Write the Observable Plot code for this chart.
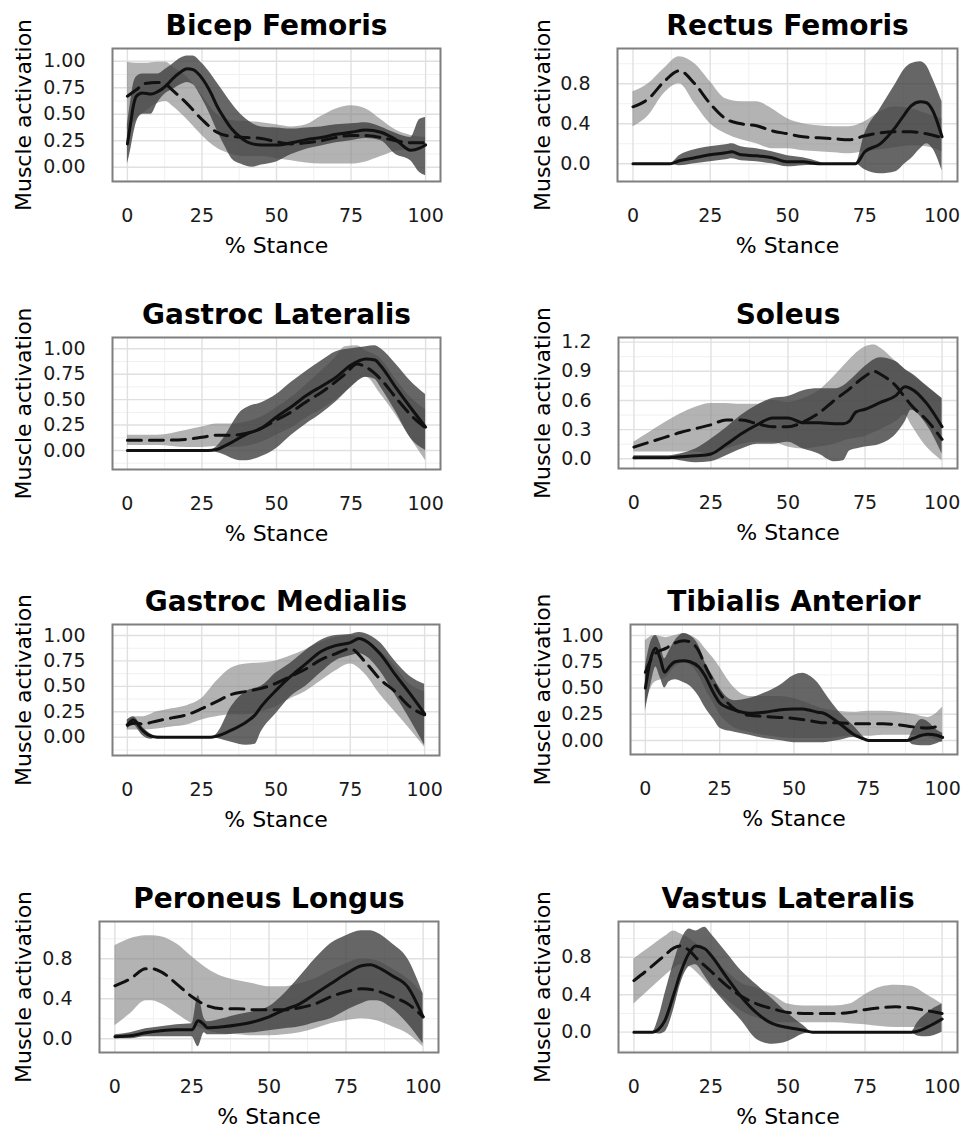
<!DOCTYPE html>
<html>
<head>
<meta charset="utf-8">
<script src="https://cdn.jsdelivr.net/npm/d3@7"></script>
<script src="https://cdn.jsdelivr.net/npm/@observablehq/plot@0.6"></script>
<style>
  body { margin: 0; background: #fff; }
  #chart { position: relative; width: 963px; height: 1129px; overflow: hidden; background: #fff; }
  #chart svg { position: absolute; overflow: visible; }
</style>
</head>
<body>
<div id="chart"></div>
<script>
// ---------- DATA ----------
const muscles = ["Bicep Femoris", "Rectus Femoris", "Gastroc Lateralis", "Soleus",
                 "Gastroc Medialis", "Tibialis Anterior", "Peroneus Longus", "Vastus Lateralis"];
const stanceTicks = [0, 25, 50, 75, 100];
const stanceMinor = [12.5, 37.5, 62.5, 87.5];
const yTicksQuarter = [0, 0.25, 0.5, 0.75, 1];
const yTicksFour = [0, 0.4, 0.8];
const yTicksThree = [0, 0.3, 0.6, 0.9, 1.2];
const xLabel = "% Stance";
const yLabel = "Muscle activation";

// rows: [% stance, lower, mean, upper]
// light band + dashed line
const bicepLight = [[0,.35,.67,.99],[3,.45,.73,.98],[6,.52,.79,.98],[10,.6,.8,.99],[13,.62,.78,.99],[15,.58,.73,.95],[20,.45,.6,.85],[25,.3,.45,.68],[30,.18,.33,.5],[35,.12,.29,.44],[40,.1,.28,.43],[45,.1,.27,.42],[50,.08,.24,.4],[55,.06,.22,.38],[60,.04,.23,.4],[65,.03,.25,.48],[70,.03,.28,.55],[75,.03,.3,.58],[80,.05,.3,.55],[85,.1,.28,.45],[90,.15,.25,.35],[95,.17,.23,.3],[100,.2,.23,.28]];
const rectusLight = [[0,.37,.57,.72],[5,.48,.65,.8],[10,.7,.82,.95],[15,.8,.93,1.07],[20,.6,.8,1.0],[25,.4,.6,.82],[30,.3,.45,.65],[35,.24,.4,.62],[40,.2,.38,.62],[45,.15,.33,.55],[50,.15,.3,.45],[55,.13,.27,.4],[60,.12,.26,.38],[65,.11,.25,.37],[70,.1,.24,.37],[75,.12,.28,.42],[80,.14,.31,.52],[85,.16,.32,.57],[90,.18,.32,.55],[95,.17,.3,.5],[100,.12,.26,.45]];
const gastrocLatLight = [[0,.05,.1,.15],[10,.05,.1,.15],[20,.03,.11,.2],[25,.03,.13,.23],[30,.04,.15,.26],[35,.03,.15,.26],[40,.04,.17,.28],[45,.08,.22,.33],[50,.15,.3,.42],[55,.22,.38,.52],[60,.32,.48,.65],[65,.4,.57,.78],[70,.5,.68,.92],[73,.57,.75,1.02],[77,.68,.85,1.03],[80,.72,.82,.98],[85,.55,.7,.9],[90,.35,.52,.7],[95,.12,.35,.52],[100,-.1,.22,.4]];
const soleusLight = [[0,.07,.12,.17],[5,.07,.17,.27],[10,.07,.22,.37],[15,.07,.27,.46],[20,.07,.31,.53],[25,.05,.35,.57],[30,.1,.4,.57],[35,.15,.4,.56],[40,.17,.36,.56],[45,.17,.33,.6],[50,.12,.33,.58],[55,.1,.38,.62],[60,.12,.47,.7],[65,.15,.6,.85],[70,.2,.72,1.02],[75,.23,.85,1.15],[78,.27,.9,1.17],[80,.3,.87,1.14],[85,.38,.75,1.0],[88,.45,.63,.92],[90,.35,.55,.87],[95,.12,.4,.75],[100,-.02,.2,.62]];
const gastrocMedLight = [[0,.07,.12,.17],[3,.07,.14,.2],[5,.07,.13,.2],[10,.08,.16,.25],[15,.1,.19,.28],[20,.12,.22,.31],[25,.17,.28,.38],[30,.2,.35,.55],[35,.22,.42,.68],[40,.22,.45,.72],[45,.25,.48,.73],[50,.3,.53,.75],[55,.38,.6,.8],[60,.45,.67,.86],[65,.55,.76,.93],[70,.65,.82,.98],[75,.72,.87,1.0],[80,.62,.74,.95],[85,.42,.57,.85],[90,.25,.45,.7],[95,.08,.3,.52],[100,-.1,.22,.45]];
const tibialisLight = [[0,.35,.65,.95],[3,.55,.82,1.0],[7,.6,.88,.98],[10,.7,.93,1.0],[13,.74,.95,1.02],[15,.72,.94,1.0],[18,.62,.85,.95],[20,.5,.72,.88],[23,.35,.55,.78],[25,.25,.45,.7],[28,.16,.35,.57],[30,.12,.3,.5],[35,.08,.24,.42],[40,.05,.23,.42],[45,.03,.22,.42],[50,.02,.21,.4],[55,.02,.19,.35],[60,.02,.17,.3],[65,.03,.17,.28],[70,.04,.16,.27],[75,.04,.16,.28],[80,.05,.16,.28],[85,.05,.15,.27],[90,.05,.13,.25],[95,.03,.12,.22],[100,-.02,.15,.32]];
const peroneusLight = [[0,.13,.53,.93],[5,.25,.6,1.0],[10,.38,.7,1.03],[12,.38,.7,1.03],[15,.35,.67,1.02],[20,.25,.55,.95],[25,.15,.42,.82],[30,.08,.33,.7],[35,.05,.3,.62],[40,.04,.3,.58],[45,.03,.29,.55],[50,.03,.29,.52],[55,.04,.29,.52],[60,.06,.31,.55],[65,.1,.35,.6],[70,.15,.42,.68],[75,.18,.47,.75],[80,.2,.5,.8],[85,.18,.48,.78],[90,.12,.42,.7],[95,.05,.35,.6],[100,-.08,.22,.45]];
const vastusLight = [[0,.3,.55,.78],[5,.45,.68,.9],[10,.6,.82,1.02],[13,.68,.9,1.08],[15,.72,.92,1.05],[18,.7,.87,1.0],[20,.65,.8,.95],[25,.48,.65,.8],[30,.35,.5,.65],[35,.22,.38,.52],[40,.15,.3,.47],[45,.1,.25,.4],[50,.1,.21,.3],[55,.1,.2,.28],[60,.1,.2,.28],[65,.1,.2,.28],[70,.09,.21,.3],[75,.08,.24,.4],[80,.06,.26,.48],[85,.05,.27,.5],[90,.05,.26,.49],[95,.05,.23,.4],[100,.1,.2,.3]];

// dark band + solid line
const bicepDark = [[0,.03,.22,.4],[1,.15,.4,.6],[2,.3,.58,.78],[3,.42,.67,.85],[5,.5,.7,.88],[8,.5,.69,.88],[10,.6,.71,.88],[13,.7,.77,.93],[15,.73,.83,.97],[18,.78,.9,1.03],[20,.8,.93,1.05],[22,.78,.92,1.05],[25,.65,.84,.98],[28,.48,.7,.88],[30,.35,.58,.8],[33,.18,.44,.68],[35,.08,.36,.6],[38,.03,.28,.5],[40,.01,.24,.45],[42,0,.22,.41],[45,.02,.21,.38],[50,.05,.21,.37],[55,.12,.23,.36],[60,.17,.26,.37],[65,.2,.28,.38],[70,.23,.31,.4],[75,.25,.33,.41],[80,.27,.35,.42],[85,.25,.33,.38],[90,.12,.26,.32],[95,.06,.16,.28],[98,-.05,.18,.45],[100,-.08,.21,.47]];
const rectusDark = [[0,0,0,0],[12,0,0,0],[15,-.02,.03,.08],[20,0,.06,.14],[25,.02,.09,.17],[30,.04,.11,.19],[32,.05,.12,.2],[35,.03,.09,.17],[40,.02,.08,.15],[45,0,.06,.12],[50,-.03,.02,.08],[55,-.02,.02,.06],[60,-.01,0,.02],[62,0,0,0],[72,0,0,0],[75,-.06,.12,.3],[80,-.1,.2,.55],[85,-.08,.37,.8],[88,0,.5,.95],[90,.05,.58,1.0],[93,.15,.62,1.02],[95,.2,.61,.98],[97,.15,.53,.85],[100,-.07,.27,.62]];
const gastrocLatDark = [[0,0,0,0],[27,0,0,0],[30,-.02,.01,.04],[33,-.05,.05,.15],[35,-.08,.08,.25],[38,-.1,.13,.38],[40,-.1,.16,.42],[45,-.06,.22,.47],[50,.02,.33,.55],[55,.15,.43,.67],[60,.26,.54,.78],[65,.36,.63,.88],[70,.48,.72,.97],[75,.62,.84,1.0],[80,.72,.9,1.02],[83,.7,.89,1.03],[85,.62,.83,1.0],[90,.38,.62,.85],[95,.12,.42,.68],[100,0,.23,.55]];
const soleusDark = [[0,-.01,.01,.03],[10,0,.01,.03],[15,-.02,.02,.05],[20,-.04,.03,.1],[25,-.03,.05,.2],[30,.03,.15,.32],[35,.1,.26,.45],[40,.15,.35,.55],[45,.15,.42,.62],[50,.17,.42,.64],[55,.1,.37,.7],[60,.05,.37,.72],[65,-.03,.36,.72],[68,-.02,.36,.75],[70,.08,.39,.8],[72,.1,.48,.86],[75,.12,.51,.95],[80,.15,.58,1.04],[85,.25,.65,1.0],[88,.38,.74,.92],[90,.5,.72,.88],[95,.35,.57,.75],[100,.05,.33,.62]];
const gastrocMedDark = [[0,.08,.12,.17],[2,.12,.17,.2],[5,.02,.07,.1],[8,-.02,.01,.03],[10,0,0,.01],[28,0,0,0],[30,-.01,.01,.03],[35,-.05,.07,.3],[40,-.08,.15,.45],[43,-.07,.22,.48],[45,.05,.3,.5],[50,.23,.46,.63],[55,.4,.6,.73],[60,.5,.72,.85],[65,.63,.84,.95],[70,.75,.9,1.0],[75,.8,.93,1.01],[78,.82,.97,1.03],[80,.8,.95,1.02],[85,.65,.82,.93],[90,.42,.62,.75],[95,.18,.43,.6],[100,-.08,.23,.52]];
const tibialisDark = [[0,.28,.5,.7],[2,.55,.8,.95],[3.5,.7,.88,1.0],[5,.6,.78,.92],[6.5,.5,.65,.78],[8,.56,.7,.85],[10,.58,.75,.95],[13,.55,.76,1.02],[15,.52,.75,1.0],[18,.42,.7,.9],[20,.32,.62,.75],[23,.2,.45,.6],[25,.12,.36,.5],[28,.09,.31,.4],[30,.08,.29,.38],[35,.05,.26,.4],[40,.02,.27,.45],[45,0,.29,.52],[50,-.02,.3,.62],[53,-.02,.3,.64],[55,-.02,.29,.62],[58,-.02,.27,.55],[60,-.02,.26,.47],[63,-.01,.21,.35],[65,0,.17,.28],[70,.03,.06,.14],[74,0,.01,.02],[75,0,0,0],[88,0,0,0],[90,-.04,.02,.1],[93,-.05,.05,.2],[95,-.05,.06,.18],[98,-.03,.05,.1],[100,-.01,.03,.07]];
const peroneusDark = [[0,0,.02,.04],[5,0,.03,.06],[10,.02,.06,.1],[15,.02,.08,.12],[20,.02,.09,.14],[25,.02,.09,.15],[27,-.08,.18,.43],[29,.06,.14,.2],[30,.04,.11,.17],[35,.04,.12,.2],[40,.05,.14,.24],[45,.06,.17,.27],[50,.08,.22,.32],[55,.1,.29,.45],[60,.12,.35,.62],[65,.16,.45,.8],[70,.2,.55,.95],[75,.28,.65,1.03],[80,.35,.73,1.08],[83,.38,.74,1.08],[85,.38,.72,1.06],[90,.3,.63,.95],[95,.15,.52,.8],[100,-.05,.22,.45]];
const vastusDark = [[0,0,0,0],[6,0,0,0],[8,-.02,.03,.15],[10,0,.12,.4],[13,.25,.41,.75],[15,.5,.62,.95],[18,.7,.85,1.1],[20,.72,.92,1.08],[23,.6,.89,1.12],[25,.5,.82,1.05],[30,.3,.59,.85],[35,.12,.37,.65],[40,-.08,.2,.5],[45,-.13,.09,.35],[50,-.1,.05,.2],[55,-.02,.02,.07],[58,0,0,0],[90,0,0,0],[92,-.04,.01,.1],[95,-.05,.05,.2],[100,0,.14,.3]];

const lightSeries = [bicepLight, rectusLight, gastrocLatLight, soleusLight, gastrocMedLight, tibialisLight, peroneusLight, vastusLight];
const darkSeries = [bicepDark, rectusDark, gastrocLatDark, soleusDark, gastrocMedDark, tibialisDark, peroneusDark, vastusDark];
const yTickSets = [yTicksQuarter, yTicksFour, yTicksQuarter, yTicksThree, yTicksQuarter, yTicksQuarter, yTicksFour, yTicksFour];
const yTickFormats = [".2f", ".1f", ".2f", ".1f", ".2f", ".2f", ".1f", ".1f"];

// ---------- LAYOUT ----------
// frame: [left, right, top, bottom] in page pixels; yDomain includes ggplot-style padding
const layout = [
  {col: 0, frame: [112, 440, 48, 181],  yDomain: [-0.135, 1.12]},
  {col: 1, frame: [617, 957, 48, 181],  yDomain: [-0.177, 1.153]},
  {col: 0, frame: [112, 440, 337, 469], yDomain: [-0.187, 1.111]},
  {col: 1, frame: [618, 957, 337, 468], yDomain: [-0.10, 1.248]},
  {col: 0, frame: [112, 439, 624, 755], yDomain: [-0.18, 1.108]},
  {col: 1, frame: [630, 957, 624, 754], yDomain: [-0.133, 1.105]},
  {col: 0, frame: [99, 438, 921, 1052], yDomain: [-0.137, 1.173]},
  {col: 1, frame: [618, 957, 921, 1052], yDomain: [-0.217, 1.181]}
];
const colOrigin = [0, 480];
const colWidth = [460, 483];
const yLabelX = [23, 542];

const FONT = '"DejaVu Sans", "Liberation Sans", sans-serif';
const chart = document.getElementById("chart");

muscles.forEach((name, i) => {
  const L = layout[i];
  const [fl, fr, ft, fb] = L.frame;
  const cx = colOrigin[L.col];
  const w = colWidth[L.col];
  const mt = 60, mb = 80;
  const ml = fl - cx, mr = cx + w - fr;
  const h = mt + (fb - ft) + mb;
  const yd = L.yDomain;
  const yt = yTickSets[i];
  const step = yt[1] - yt[0];
  const yMinor = [];
  for (let v = yt[0] - step / 2; v <= yd[1] + 1e-9; v += step) if (v >= yd[0]) yMinor.push(v);
  const yMajor = yt.filter(v => v >= yd[0] && v <= yd[1]);
  const light = lightSeries[i], dark = darkSeries[i];
  const X = d => d[0];

  const plot = Plot.plot({
    width: w, height: h,
    marginLeft: ml, marginRight: mr, marginTop: mt, marginBottom: mb,
    x: {domain: [-5, 105]},
    y: {domain: yd},
    style: {fontFamily: FONT, fontSize: "19px", color: "#1a1a1a", background: "transparent", overflow: "visible"},
    marks: [
      Plot.ruleX(stanceMinor, {stroke: "#f0f0f0", strokeWidth: 1}),
      Plot.ruleY(yMinor, {stroke: "#f0f0f0", strokeWidth: 1}),
      Plot.ruleX(stanceTicks, {stroke: "#e0e0e0", strokeWidth: 1.4}),
      Plot.ruleY(yMajor, {stroke: "#e0e0e0", strokeWidth: 1.4}),
      Plot.areaY(light, {x: X, y1: d => d[1], y2: d => d[3], fill: "#808080", fillOpacity: 0.6, curve: "monotone-x", clip: true}),
      Plot.areaY(dark, {x: X, y1: d => d[1], y2: d => d[3], fill: "#404040", fillOpacity: 0.8, curve: "monotone-x", clip: true}),
      Plot.line(light, {x: X, y: d => d[2], stroke: "#111", strokeWidth: 3, strokeDasharray: "14,8", curve: "monotone-x", strokeLinejoin: "round"}),
      Plot.line(dark, {x: X, y: d => d[2], stroke: "#111", strokeWidth: 3, curve: "monotone-x", strokeLinejoin: "round"}),
      Plot.axisX(stanceTicks, {tickSize: 0, tickPadding: 27, label: null, fontSize: 19}),
      Plot.axisY(yt, {tickSize: 0, tickPadding: 27, label: null, fontSize: 19, tickFormat: d3.format(yTickFormats[i])}),
      Plot.frame({stroke: "#7f7f7f", strokeWidth: 2}),
      Plot.text([{t: name}], {x: () => 50, text: "t", frameAnchor: "top", dy: -22, fontSize: 28, fontWeight: "bold", fill: "#000", lineAnchor: "middle"}),
      Plot.text([{t: xLabel}], {x: () => 50, text: "t", frameAnchor: "bottom", dy: 64.5, fontSize: 22, fill: "#000", lineAnchor: "middle"}),
      Plot.text([{t: yLabel}], {y: () => (yd[0] + yd[1]) / 2, text: "t", frameAnchor: "left", dx: yLabelX[L.col] - fl, rotate: -90, fontSize: 22, fill: "#000", lineAnchor: "middle", textAnchor: "middle"})
    ]
  });
  plot.style.left = cx + "px";
  plot.style.top = (ft - mt) + "px";
  chart.appendChild(plot);
});
</script>
</body>
</html>
